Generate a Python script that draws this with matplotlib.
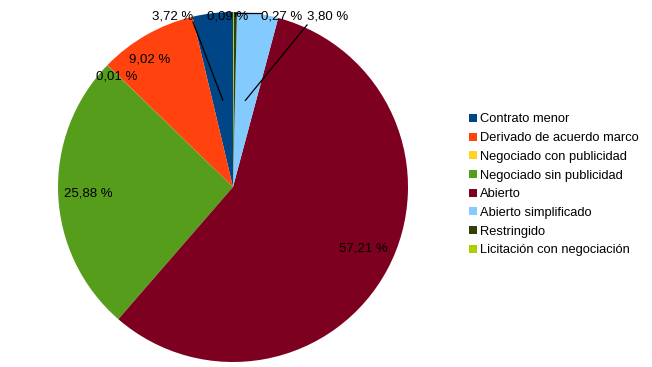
import numpy as np
import matplotlib
matplotlib.use("Agg")
import matplotlib.pyplot as plt
from matplotlib.patches import Rectangle

plt.rcParams['font.family'] = ['Liberation Sans', 'DejaVu Sans']

categories = ["Contrato menor", "Derivado de acuerdo marco", "Negociado con publicidad",
              "Negociado sin publicidad", "Abierto", "Abierto simplificado",
              "Restringido", "Licitación con negociación"]
values = [3.72, 9.02, 0.01, 25.88, 57.21, 3.80, 0.27, 0.09]
labels = ["3,72 %", "9,02 %", "0,01 %", "25,88 %", "57,21 %", "3,80 %", "0,27 %", "0,09 %"]
colors = ["#004586", "#ff420e", "#ffd320", "#579d1c", "#7e0021", "#83caff", "#314004", "#aecf00"]

W, H = 652, 367
fig = plt.figure(figsize=(W / 100, H / 100), dpi=100)
cx, cy, R = 233, 187, 175
ax = fig.add_axes([(cx - R) / W, (H - cy - R) / H, 2 * R / W, 2 * R / H])
wedges, _ = ax.pie(values, colors=colors, startangle=90, counterclock=True,
                   radius=1.0, wedgeprops=dict(linewidth=0))
ax.set_xlim(-1, 1)
ax.set_ylim(-1, 1)
ax.set_aspect('equal')
ax.axis('off')

fs = 9.5
# label positions (in pie-radius units)
label_pos = [(-0.343, 0.972), (-0.474, 0.731), (-0.663, 0.634), (-0.829, -0.035),
             (0.743, -0.354), (0.543, 0.972), (0.28, 0.972), (-0.029, 0.972)]
for lab, (x, y) in zip(labels, label_pos):
    ax.text(x, y, lab, ha='center', va='center', fontsize=fs, color='black', clip_on=False)

def mid(w):
    a = np.deg2rad((w.theta1 + w.theta2) / 2)
    return np.cos(a), np.sin(a)

# leader lines
mx, my = mid(wedges[0])
ax.plot([0.5 * mx, -0.229], [0.5 * my, 0.943], color='black', lw=0.9, clip_on=False)
mx, my = mid(wedges[5])
ax.plot([0.5 * mx, 0.423], [0.5 * my, 0.926], color='black', lw=0.9, clip_on=False)
mx, my = mid(wedges[6])
ax.plot([mx * 0.985, mx * 0.985, 0.16], [0.975, 0.994, 0.994], color='black', lw=0.9, clip_on=False)

# legend
for i, (cat, col) in enumerate(zip(categories, colors)):
    yc = 118 + i * 18.67
    fig.patches.append(Rectangle((469 / W, (H - yc - 4) / H), 8 / W, 8 / H,
                                 transform=fig.transFigure, facecolor=col, edgecolor='none'))
    fig.text(480 / W, (H - yc - 1.5) / H, cat, ha='left', va='center', fontsize=fs - 0.2, color='black')

fig.savefig("out.png", dpi=100)
